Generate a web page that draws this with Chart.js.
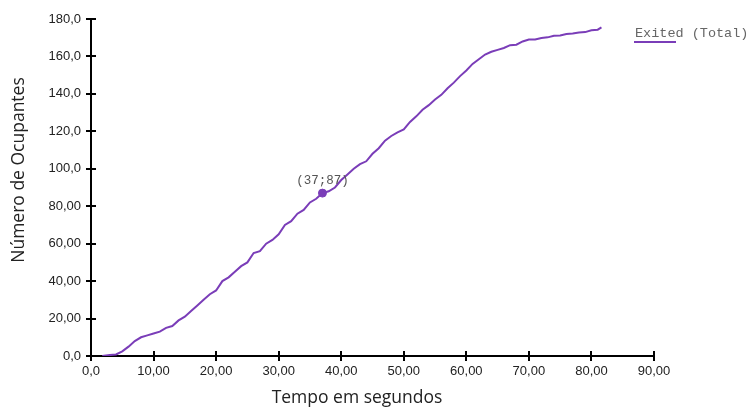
<!DOCTYPE html>
<html>
<head>
<meta charset="utf-8">
<script src="https://cdn.jsdelivr.net/npm/chart.js@4.4.1/dist/chart.umd.min.js"></script>
<style>
html, body { margin: 0; padding: 0; background: #fff; }
#wrap { width: 752px; height: 408px; }
</style>
</head>
<body>
<div id="wrap"><canvas id="grafica" width="752" height="408"></canvas></div>
<script>
// tempo (s) e ocupantes que sairam
var tempos = [1.8, 3, 4, 5, 6, 7, 8, 9, 10, 11, 12, 13, 14, 15, 16, 17, 18, 19, 20,
    21, 22, 23, 24, 25, 26, 27, 28, 29, 30, 31, 32, 33, 34, 35, 36, 37, 38, 39, 40,
    41, 42, 43, 44, 45, 46, 47, 48, 49, 50, 51, 52, 53, 54, 55, 56, 57, 58, 59, 60,
    61, 62, 63, 64, 65, 66, 67, 68, 69, 70, 71, 72, 73, 74, 75, 76, 77, 78, 79, 80, 81, 81.6];
var saidos = [0, 0.5, 0.8, 2.5, 5, 8, 10, 11, 12, 13, 15, 16, 19, 21, 24, 27, 30, 33, 35,
    40, 42, 45, 48, 50, 55, 56, 60, 62, 65, 70, 72, 76, 78, 82, 84, 87, 88, 90, 94,
    97, 100, 102.5, 104, 108, 111, 115, 117.5, 119.5, 121, 125, 128, 131.5, 134, 137, 139.5, 143, 146, 149.5, 152.5,
    156, 158.5, 161, 162.5, 163.5, 164.5, 166, 166.3, 168, 169, 169, 169.8, 170.2, 171, 171.2, 172, 172.3, 172.8, 173, 174, 174.3, 175.5];
var destaque = [37, 87];
var xTicks = ["0,0", "10,00", "20,00", "30,00", "40,00", "50,00", "60,00", "70,00", "80,00", "90,00"];
var yTicks = ["0,0", "20,00", "40,00", "60,00", "80,00", "100,0", "120,0", "140,0", "160,0", "180,0"];

var roxo = '#7a3db8';
var pontos = tempos.map(function (t, i) { return { x: t, y: saidos[i] }; });

var extras = {
    id: 'extras',
    afterDraw: function (chart) {
        var c = chart.ctx;
        var sx = chart.scales.x, sy = chart.scales.y;
        c.save();
        // marcas para dentro
        c.strokeStyle = '#000';
        c.lineWidth = 2;
        c.beginPath();
        for (var i = 1; i < xTicks.length; i++) {
            var px = Math.round(sx.getPixelForValue(i * 10));
            c.moveTo(px, sy.bottom);
            c.lineTo(px, sy.bottom - 5);
        }
        for (var j = 1; j < yTicks.length; j++) {
            var py = Math.round(sy.getPixelForValue(j * 20));
            c.moveTo(sx.left, py);
            c.lineTo(sx.left + 5, py);
        }
        c.stroke();
        // rotulo do ponto
        c.fillStyle = '#555';
        c.font = '12.5px "Liberation Mono", monospace';
        c.textAlign = 'center';
        c.textBaseline = 'middle';
        c.fillText('(' + destaque[0] + ';' + destaque[1] + ')',
            sx.getPixelForValue(destaque[0]), sy.getPixelForValue(destaque[1]) - 12);
        // legenda
        c.textAlign = 'left';
        c.fillStyle = '#666';
        c.font = '13.5px "Liberation Mono", monospace';
        c.fillText('Exited (Total)', 635, 33);
        c.strokeStyle = roxo;
        c.lineWidth = 2;
        c.beginPath();
        c.moveTo(634, 42);
        c.lineTo(676, 42);
        c.stroke();
        // titulos dos eixos
        c.fillStyle = '#222';
        c.font = '17.5px "Open Sans", sans-serif';
        c.textAlign = 'center';
        c.textBaseline = 'alphabetic';
        c.fillText('Tempo em segundos', 357, 403);
        c.translate(24, 170);
        c.rotate(-Math.PI / 2);
        c.fillText('Número de Ocupantes', 0, 0);
        c.restore();
    }
};

var ctx = document.getElementById('grafica').getContext('2d');
var grafica = new Chart(ctx, {
    type: 'line',
    data: {
        datasets: [{
            label: 'Exited (Total)',
            data: pontos,
            borderColor: roxo,
            borderWidth: 2,
            pointRadius: 0,
            tension: 0,
            fill: false
        }, {
            label: 'destaque',
            data: [{ x: destaque[0], y: destaque[1] }],
            showLine: false,
            pointRadius: 4,
            pointBackgroundColor: roxo,
            pointBorderColor: roxo
        }]
    },
    options: {
        responsive: false,
        animation: false,
        layout: { padding: { top: 19, right: 98, left: 0, bottom: 0 } },
        plugins: { legend: { display: false }, tooltip: { enabled: false } },
        scales: {
            x: {
                type: 'linear',
                min: 0,
                max: 90,
                ticks: {
                    stepSize: 10,
                    color: '#222',
                    font: { family: '"Liberation Sans", Arial', size: 13 },
                    padding: 3,
                    maxRotation: 0,
                    callback: function (v, i) { return xTicks[i]; }
                },
                grid: { drawOnChartArea: false, color: '#000', lineWidth: 2, tickLength: 5 },
                border: { color: '#000', width: 2 },
                afterFit: function (s) { s.height = 52; }
            },
            y: {
                min: 0,
                max: 180,
                ticks: {
                    stepSize: 20,
                    color: '#222',
                    font: { family: '"Liberation Sans", Arial', size: 13 },
                    padding: 5,
                    callback: function (v, i) { return yTicks[i]; }
                },
                grid: { drawOnChartArea: false, color: '#000', lineWidth: 2, tickLength: 5 },
                border: { color: '#000', width: 2 },
                afterFit: function (s) { s.width = 91; }
            }
        }
    },
    plugins: [extras]
});
</script>
</body>
</html>
